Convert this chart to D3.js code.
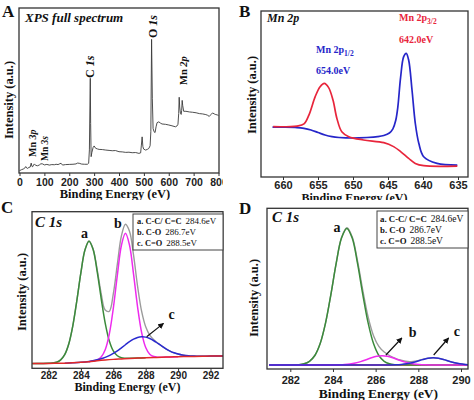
<!DOCTYPE html>
<html><head><meta charset="utf-8">
<script src="https://cdnjs.cloudflare.com/ajax/libs/d3/7.8.5/d3.min.js"></script>
<style>body{margin:0;background:#fff}svg{display:block}</style>
</head><body><svg id="c" width="474" height="400"></svg>
<script>
// ---------- DATA ----------
// Panel A: XPS survey (binding energy eV, relative intensity 0-100)
const surveySpectrum = [[0,1.4],[8,2.0],[15,2.4],[20,2.8],[25,3.9],[29,3.0],[33,2.8],[38,3.4],[43,3.6],[47,6.0],[50,4.0],[53,3.8],[57,5.0],[60,5.5],[65,4.6],[73,4.4],[80,4.9],[86,5.6],[93,5.5],[100,4.9],[110,5.2],[120,4.8],[130,5.1],[140,5.0],[147,5.3],[155,5.1],[162,5.6],[167,5.9],[173,4.8],[185,5.1],[200,5.2],[215,5.3],[227,5.5],[233,6.0],[240,5.9],[250,5.4],[262,5.3],[273,5.3],[278,5.9],[281,14],[283,40],[284.6,57.4],[286,30],[288,9.9],[291,12.5],[296,15.5],[300,16.4],[306,15],[313,14.6],[320,14.3],[333,14.2],[347,13.9],[360,13.7],[373,13.5],[386,13.6],[400,12.9],[413,12.8],[427,12.5],[440,12.6],[453,12.3],[467,12.4],[480,11.9],[487,12.2],[490,16.9],[493,21.9],[496,16],[499,14.5],[507,13.9],[514,14.3],[520,14.9],[525,16.5],[528,25],[531,81],[534,45],[537,27],[541,25],[545,24.5],[549,28],[553,30.5],[560,31],[567,30.2],[573,29.7],[587,29.5],[600,29.1],[613,28.6],[627,28],[633,28.5],[637,29.5],[640,36],[642,45.9],[644,40],[647,36.2],[650,35.5],[652,38],[654,44],[656,41],[660,37.4],[669,37.4],[683,37],[696,36.8],[710,36.5],[723,36],[736,35.8],[749,35.4],[756,35.0],[763,34.3],[770,35.5],[776,36.4],[783,35.8],[789,35.4],[795,35.2],[800,34.8]];
const surveyTicks = [0,100,200,300,400,500,600,700,800];
const surveyPeakNames = ["C ","O ","Mn ","Mn ","Mn "];
const surveyPeakOrbitals = ["1s","1s","2p","3p","3s"];

// Panel B: Mn 2p
const mnRed = [[661.4,30.3],[658,30.7],[657,32],[656.3,37.3],[655.4,48.4],[654.7,54.4],[654.1,56.4],[653.5,54],[652.86,46.4],[652.3,35.3],[651.6,27.3],[650.6,24.3],[648.5,22.3],[645.6,20.7],[644.2,18.3],[643.2,15.3],[642.05,11.2],[641.1,8.2],[639.9,6.8],[635.1,6.6]];
const mnBlue = [[661.5,30],[660,30],[658,29.8],[657,29.3],[656,28.3],[655,26.8],[654,25.3],[653,24.3],[652,23.8],[650,23.5],[648,23.8],[646.5,24.3],[645.6,25],[644.8,26.5],[644.3,29],[643.9,34],[643.6,42],[643.2,60],[642.76,72.5],[642.4,74.5],[642.05,70.5],[641.57,52.4],[641.1,32.3],[640.6,20.3],[639.9,12.2],[638,8.2],[635.1,7.2]];
const mnTicks = [660,655,650,645,640,635];

// Panel C: C 1s (first sample)
const c1Background = [[281,3.0],[282,3.1],[283,3.3],[283.5,3.5],[284,3.8],[284.5,4.2],[285,4.8],[285.5,5.3],[286,5.7],[286.5,6.0],[287,6.3],[287.5,6.5],[288,6.7],[288.5,6.9],[289,7.1],[289.5,7.2],[290,7.4],[290.5,7.5],[291,7.6],[291.5,7.7],[292,7.8],[292.8,7.9]];
const c1PeakA = [[281,3.0],[281.5,3.1],[282,3.2],[282.25,3.4],[282.5,3.9],[282.75,5.4],[283,8.7],[283.25,15.5],[283.5,27.1],[283.75,43.3],[284,61.1],[284.25,75.5],[284.5,81.2],[284.75,76.0],[285,62.1],[285.25,44.7],[285.5,28.9],[285.75,17.6],[286,11.1],[286.25,8.0],[286.5,6.7],[286.75,6.4],[287,6.4],[287.5,6.5],[288,6.7]];
const c1PeakB = [[284.5,4.2],[284.75,4.6],[285,5.4],[285.25,7.25],[285.5,11.9],[285.75,21.7],[286,38.3],[286.25,59.5],[286.5,78.4],[286.75,86.2],[287,78.7],[287.25,60.1],[287.5,39.1],[287.75,22.8],[288,13.3],[288.25,9.0],[288.5,7.5],[288.75,7.1],[289,7.1],[289.5,7.2],[290,7.4]];
const c1PeakC = [[283,3.3],[283.5,3.5],[284,3.8],[284.5,4.4],[285,5.4],[285.25,6.05],[285.5,7.0],[285.75,8.1],[286,9.5],[286.25,11.15],[286.5,13.1],[286.75,15.05],[287,17.0],[287.25,18.6],[287.5,19.7],[287.75,20.1],[288,19.9],[288.25,19.0],[288.5,17.6],[288.75,15.9],[289,14.2],[289.25,12.45],[289.5,11.0],[289.75,9.9],[290,9.1],[290.25,8.45],[290.5,8.1],[290.75,7.85],[291,7.8],[291.5,7.7],[292,7.8],[292.8,7.9]];
const c1Envelope = [[281,3.0],[281.5,3.1],[282,3.2],[282.5,3.9],[282.75,5.35],[283,8.7],[283.25,15.5],[283.5,27.1],[283.75,43.25],[284,61.1],[284.25,75.6],[284.5,81.4],[284.75,76.4],[285,63.3],[285.25,47.9],[285.5,37.2],[285.75,36.4],[286,47.5],[286.25,66.5],[286.5,84.5],[286.75,92.0],[287,87.5],[287.25,72.3],[287.5,52.3],[287.75,36.3],[288,26.5],[288.25,21.2],[288.5,18.2],[288.75,16.0],[289,14.2],[289.25,12.45],[289.5,11.0],[289.75,9.9],[290,9.1],[290.5,8.1],[291,7.8],[291.5,7.7],[292,7.8],[292.8,7.9]];
const c1Ticks = [282,284,286,288,290,292];

// Panel D: C 1s (second sample)
const c2Background = [[281,2.5],[290.4,2.5]];
const c2PeakA = [[281,2.5],[282,2.5],[282.15,2.6],[282.4,2.7],[282.65,3.25],[282.9,4.8],[283.15,8.4],[283.4,15.8],[283.65,28.5],[283.9,46.2],[284.15,65.7],[284.4,81.5],[284.65,87.5],[284.9,81.5],[285.15,65.7],[285.4,46.2],[285.65,28.5],[285.9,15.8],[286.15,8.4],[286.4,4.8],[286.65,3.25],[286.9,2.7],[287.15,2.6],[287.5,2.5],[290.4,2.5]];
const c2PeakB = [[281,2.5],[284,2.5],[284.3,2.6],[284.55,2.76],[284.8,3.08],[285.05,3.68],[285.3,4.59],[285.55,5.77],[285.8,7.0],[286.05,7.94],[286.3,8.3],[286.55,7.94],[286.8,7.0],[287.05,5.77],[287.3,4.59],[287.55,3.68],[287.8,3.08],[288.05,2.76],[288.3,2.6],[288.6,2.5],[290.4,2.5]];
const c2PeakC = [[281,2.5],[286.5,2.5],[286.7,2.54],[286.95,2.62],[287.2,2.81],[287.45,3.21],[287.7,3.88],[287.95,4.81],[288.2,5.85],[288.45,6.68],[288.7,7.0],[288.95,6.68],[289.2,5.85],[289.45,4.81],[289.7,3.88],[289.95,3.21],[290.2,2.81],[290.4,2.65]];
const c2Envelope = [[281,2.5],[282,2.5],[282.15,2.55],[282.4,2.7],[282.65,3.25],[282.9,4.8],[283.15,8.4],[283.4,15.8],[283.65,28.5],[283.9,46.2],[284.15,65.75],[284.4,81.65],[284.65,87.86],[284.9,82.28],[285.15,67.2],[285.4,48.74],[285.65,32.27],[285.9,20.73],[286.15,14.07],[286.4,10.55],[286.65,8.4],[286.9,6.82],[287.15,5.58],[287.4,4.8],[287.65,4.62],[287.9,5.03],[288.15,5.83],[288.4,6.61],[288.65,6.99],[288.9,6.79],[289.15,6.04],[289.4,5.02],[289.65,4.05],[289.9,3.32],[290.15,2.87],[290.4,2.7]];
const c2Ticks = [282,284,286,288,290];

const componentLabels = ["a. C-C/ C=C","b. C-O","c. C=O"];
const componentEnergies = ["284.6eV","286.7eV","288.5eV"];

// ---------- DRAWING ----------
const svg = d3.select('#c');
const SERIF = "'Liberation Serif','Times New Roman',serif";
const SANS = "'Liberation Sans',Arial,sans-serif";
const defs = svg.append('defs');
defs.append('marker').attr('id','arr').attr('viewBox','0 0 10 10').attr('refX',9).attr('refY',5)
  .attr('markerWidth',5).attr('markerHeight',5).attr('orient','auto')
  .append('path').attr('d','M0,0L10,5L0,10z').attr('fill','#111');

function panel(c) {
  const g = svg.append('g');
  if (c.bg) g.append('rect').attr('x',c.bg[0]).attr('y',c.bg[1]).attr('width',c.bg[2]).attr('height',c.bg[3]).attr('fill','#fff');
  const x = d3.scaleLinear().domain(c.xd).range(c.xr);
  const y = d3.scaleLinear().domain([0,100]).range([c.b, c.t]);
  defs.append('clipPath').attr('id','clip'+c.name).append('rect')
    .attr('x',c.l).attr('y',c.t).attr('width',c.r-c.l).attr('height',c.b-c.t);
  const plot = g.append('g').attr('clip-path',`url(#clip${c.name})`);
  const over = g.append('g');
  const ax = d3.axisBottom(x).tickValues(c.ticks).tickSize(3).tickSizeOuter(0).tickFormat(d3.format('d'));
  const axg = over.append('g').attr('transform',`translate(0,${c.b})`).call(ax);
  axg.select('.domain').remove();
  axg.selectAll('line').attr('stroke','#333');
  axg.selectAll('text').attr('font-family',SANS).attr('font-weight','bold').attr('font-size',c.tickFs)
    .attr('fill','#222').attr('dy',null).attr('y',c.tickY - c.b);
  over.append('rect').attr('x',c.l).attr('y',c.t).attr('width',c.r-c.l).attr('height',c.b-c.t)
    .attr('fill','none').attr('stroke','#333').attr('stroke-width',1.3);
  over.append('text').attr('x',(c.l+c.r)/2 + (c.titleDx||0)).attr('y',c.titleY).attr('text-anchor','middle')
    .attr('font-family',SERIF).attr('font-weight','bold').attr('font-size',c.titleFs).attr('fill','#111')
    .text('Binding Energy (eV)');
  over.append('text').attr('transform',`translate(${c.ytX},${c.ytY}) rotate(-90)`).attr('text-anchor','middle')
    .attr('font-family',SERIF).attr('font-weight','bold').attr('font-size',12.5).attr('fill','#111')
    .text('Intensity (a.u.)');
  over.append('text').attr('x',c.letter[0]).attr('y',c.letter[1]).attr('font-family',SERIF).attr('font-weight','bold')
    .attr('font-size',17).attr('fill','#111').text(c.name);
  return {g, plot, over, x, y};
}
function drawLine(p, data, color, w, curve) {
  p.plot.append('path').datum(data).attr('fill','none').attr('stroke',color).attr('stroke-width',w)
    .attr('stroke-linejoin','round')
    .attr('d', d3.line().x(d=>p.x(d[0])).y(d=>p.y(d[1])).curve(curve||d3.curveLinear));
}
function italicLabel(p, x, y, txt, fs) {
  p.over.append('text').attr('x',x).attr('y',y).attr('font-family',SERIF).attr('font-weight','bold')
    .attr('font-style','italic').attr('font-size',fs).attr('fill','#111').text(txt);
}

// Panel A
const A = panel({name:'A', xd:[0,800], xr:[19.5,218.5], l:19, r:219, t:8, b:173, ticks:surveyTicks,
  tickFs:10.5, tickY:186, titleY:198, titleFs:12.5, titleDx:-4, ytX:13, ytY:100, letter:[2,17]});
drawLine(A, surveySpectrum, '#3a3a3a', 0.9);
italicLabel(A, 25, 22, 'XPS full spectrum', 13);
const peakLabelPos = [[94,78,12],[157,38,12],[187,85,10.5],[35.5,157,10],[47.5,161,9.5]];
surveyPeakNames.forEach((nm,i) => {
  const [bx,by,fs] = peakLabelPos[i];
  const t = A.over.append('text').attr('transform',`translate(${bx},${by}) rotate(-90)`)
    .attr('font-family',SERIF).attr('font-weight','bold').attr('font-size',fs).attr('fill','#111');
  t.append('tspan').text(nm);
  t.append('tspan').attr('font-style','italic').text(surveyPeakOrbitals[i]);
});

// Panel B
const B = panel({name:'B', bg:[223,0,251,200], xd:[660,635], xr:[283,458], l:261, r:468, t:11, b:177, ticks:mnTicks,
  tickFs:11, tickY:188.5, titleY:202, titleFs:12, titleDx:-10, ytX:256, ytY:95, letter:[239,17]});
drawLine(B, mnBlue, '#2626c9', 1.7, d3.curveCatmullRom.alpha(0.5));
drawLine(B, mnRed, '#e8253b', 1.7, d3.curveCatmullRom.alpha(0.5));
italicLabel(B, 267, 22, 'Mn 2p', 12);
function subLabel(p, x, y, sub, color) {
  const t = p.over.append('text').attr('x',x).attr('y',y).attr('font-family',SERIF).attr('font-weight','bold')
    .attr('font-size',10).attr('fill',color);
  t.append('tspan').text('Mn 2p');
  t.append('tspan').attr('dy',3).attr('font-size',7.5).text(sub);
}
subLabel(B, 399, 21, '3/2', '#e8253b');
B.over.append('text').attr('x',399).attr('y',43).attr('font-family',SERIF).attr('font-weight','bold').attr('font-size',10).attr('fill','#e8253b').text('642.0eV');
subLabel(B, 316, 53, '1/2', '#2626c9');
B.over.append('text').attr('x',316).attr('y',74).attr('font-family',SERIF).attr('font-weight','bold').attr('font-size',10).attr('fill','#2626c9').text('654.0eV');

// Panel C / D helpers
function legend(p, box, txtX, base, fsB, fsN) {
  p.over.append('rect').attr('x',box[0]).attr('y',box[1]).attr('width',box[2]).attr('height',box[3])
    .attr('fill','#fff').attr('stroke','#444').attr('stroke-width',1);
  componentLabels.forEach((lab,i) => {
    const t = p.over.append('text').attr('x',txtX).attr('y',base[i]).attr('font-family',SERIF).attr('fill','#111');
    t.append('tspan').attr('font-weight','bold').attr('font-size',fsB).text(lab);
    t.append('tspan').attr('dx',4).attr('font-size',fsN).text(componentEnergies[i]);
  });
}
function letterAt(p, e, v, t, fs) {
  p.over.append('text').attr('x',p.x(e)).attr('y',p.y(v)).attr('font-family',SERIF).attr('font-weight','bold')
    .attr('font-size',fs).attr('fill','#111').text(t);
}
function arrow(p, e0, v0, e1, v1) {
  p.over.append('line').attr('x1',p.x(e0)).attr('y1',p.y(v0)).attr('x2',p.x(e1)).attr('y2',p.y(v1))
    .attr('stroke','#111').attr('stroke-width',1.2).attr('marker-end','url(#arr)');
}
const GREEN = '#3b8a3b', MAG = '#ee2bee', BLUE2 = '#2a2ad0', GRAY = '#9b9b9b', RED2 = '#e02828';
const smooth = d3.curveCatmullRom.alpha(0.5);

// Panel C
const C = panel({name:'C', bg:[0,200,237,200], xd:[282,292], xr:[48.5,210.5], l:32, r:223, t:211.7, b:368.3, ticks:c1Ticks,
  tickFs:10, tickY:379, titleY:391, titleFs:12, ytX:26, ytY:292, letter:[1,213]});
drawLine(C, c1Envelope, GRAY, 1.4, smooth);
drawLine(C, c1PeakA, GREEN, 1.5, smooth);
drawLine(C, c1PeakB, MAG, 1.5, smooth);
drawLine(C, c1PeakC, BLUE2, 1.5, smooth);
drawLine(C, c1Background, RED2, 1.5, smooth);
italicLabel(C, 35, 227, 'C 1s', 15);
legend(C, [133,214,90,36], 137, [224,235,246], 8.4, 9);
letterAt(C, 284.0, 83.2, 'a', 14);
letterAt(C, 286.05, 89.6, 'b', 14);
letterAt(C, 289.4, 31.5, 'c', 14);
arrow(C, 288.06, 20.2, 289.1, 28.7);

// Panel D
const D = panel({name:'D', bg:[237,200,237,200], xd:[282,290], xr:[290.3,461], l:267, r:468, t:208.3, b:369, ticks:c2Ticks,
  tickFs:11, tickY:384, titleY:397.5, titleFs:13.5, titleDx:11, ytX:258, ytY:298, letter:[239,214]});
drawLine(D, c2Envelope, GRAY, 1.4, smooth);
drawLine(D, c2Background, RED2, 1.5, smooth);
drawLine(D, c2PeakA, GREEN, 1.5, smooth);
drawLine(D, c2PeakB, MAG, 1.5, smooth);
drawLine(D, c2PeakC, BLUE2, 1.5, smooth);
italicLabel(D, 272, 222, 'C 1s', 15);
legend(D, [377,211,91,37], 380, [222,233,244], 8.8, 9.5);
letterAt(D, 284.03, 85.3, 'a', 14);
letterAt(D, 287.55, 19.9, 'b', 14);
letterAt(D, 289.66, 20.5, 'c', 14);
arrow(D, 286.48, 8.7, 287.23, 19.3);
arrow(D, 288.72, 8.7, 289.42, 19.3);
</script></body></html>
